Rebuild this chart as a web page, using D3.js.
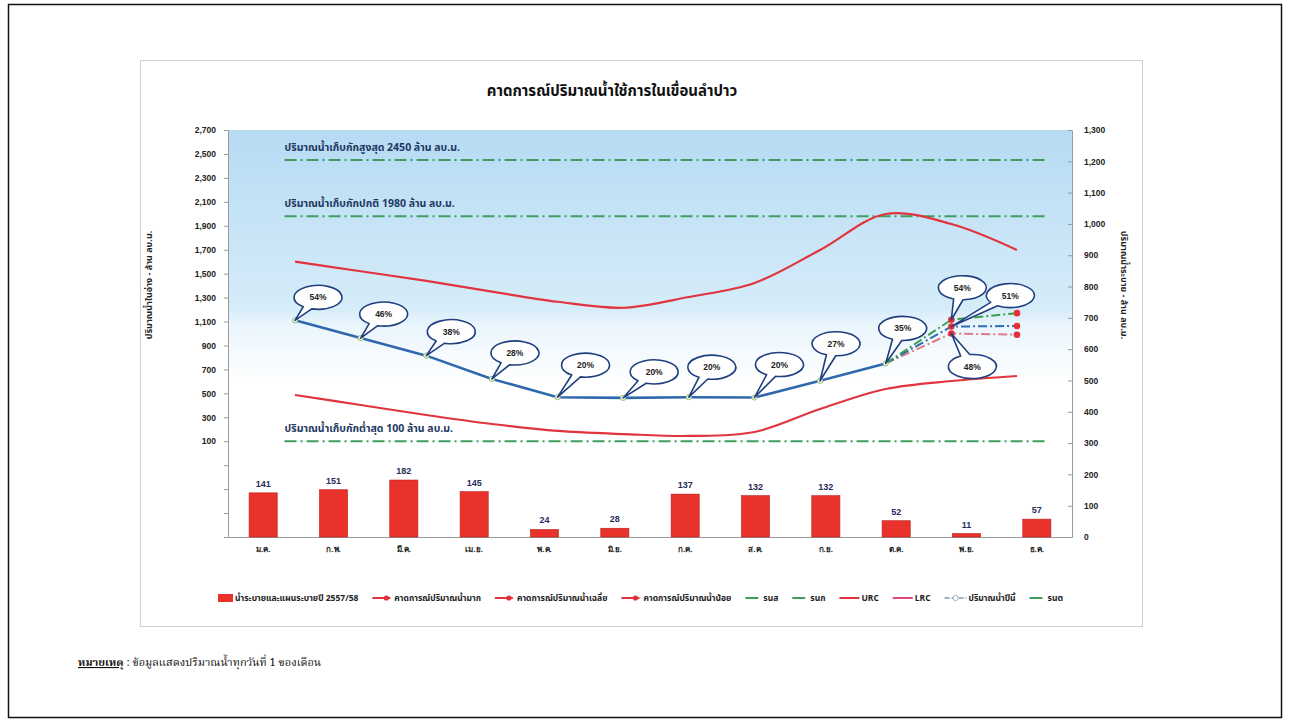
<!DOCTYPE html>
<html><head><meta charset="utf-8">
<script src="https://cdn.jsdelivr.net/npm/d3@7"></script>
<style>
body{margin:0;background:#fff;}
svg{display:block;font-family:"Noto Sans Thai","Tahoma","Noto Sans",sans-serif;}
</style></head><body>
<svg id="c" width="1289" height="722"></svg>
<script>
// ---------------- DATA ----------------
const months = ["ม.ค.","ก.พ.","มี.ค.","เม.ย.","พ.ค.","มิ.ย.","ก.ค.","ส.ค.","ก.ย.","ต.ค.","พ.ย.","ธ.ค."];
const releaseValues = [141,151,182,145,24,28,137,132,132,52,11,57];
const actualMonths = months.slice(0,10);
const actualStorage = [1110,962,815,620,468,462,468,465,605,750];
const actualPercent = ["54%","46%","38%","28%","20%","20%","20%","20%","27%","35%"];
const forecastMonths = ["ต.ค.","พ.ย.","ธ.ค."];
const forecastHigh = [750,1115,1170];
const forecastAvg  = [750,1058,1063];
const forecastLow  = [750,1000,990];
const forecastPercent = ["54%","51%","48%"];
const urcValues = [1600,1520,1440,1350,1265,1215,1305,1422,1698,1998,1915,1698];
const lrcValues = [486,403,319,244,186,160,144,177,369,536,603,645];
const refLevels = [2450,1980,100];
const refLabels = ["ปริมาณน้ำเก็บกักสูงสุด 2450 ล้าน ลบ.ม.","ปริมาณน้ำเก็บกักปกติ 1980 ล้าน ลบ.ม.","ปริมาณน้ำเก็บกักต่ำสุด 100 ล้าน ลบ.ม."];
const leftTicks = d3.range(-700, 2701, 200);
const rightTicks = d3.range(0, 1301, 100);
const legendLabels = ["น้ำระบายและแผนระบายปี 2557/58","คาดการณ์ปริมาณน้ำมาก","คาดการณ์ปริมาณน้ำเฉลี่ย","คาดการณ์ปริมาณน้ำน้อย","รนส","รนก","URC","LRC","ปริมาณน้ำปีนี้","รนต"];
const titleText = "คาดการณ์ปริมาณน้ำใช้การในเขื่อนลำปาว";
const leftTitle = "ปริมาณน้ำในอ่าง - ล้าน ลบ.ม.";
const rightTitle = "ปริมาณน้ำระบาย - ล้าน ลบ.ม.";
const noteHead = "หมายเหตุ";
const noteBody = " : ข้อมูลแสดงปริมาณน้ำทุกวันที่ 1 ของเดือน";

// ---------------- LAYOUT ----------------
const svg = d3.select("#c");
const L = 228, R = 1072, T = 130, B = 537, W = R - L;
const yL = d3.scaleLinear().domain([-700, 2700]).range([B, T]);
const yR = d3.scaleLinear().domain([0, 1300]).range([B, T]);
const xBand = d3.scaleBand().domain(months).range([L, R]).paddingInner(0.6).paddingOuter(0.3);
const xLine = d3.scalePoint().domain(months).range([L + 0.0794*W, R - 0.0652*W]);
const numFont = "'Liberation Sans', Arial, sans-serif";

// outer frame & chart frame
svg.append("rect").attr("x",8.5).attr("y",4.5).attr("width",1273).attr("height",713)
  .attr("fill","none").attr("stroke","#111").attr("stroke-width",1.5);
svg.append("rect").attr("x",140.5).attr("y",60.5).attr("width",1002).attr("height",566)
  .attr("fill","#fff").attr("stroke","#cfcfcf").attr("stroke-width",1);

// gradient background
const defs = svg.append("defs");
const g = defs.append("linearGradient").attr("id","bg").attr("x1",0).attr("y1",0).attr("x2",0).attr("y2",1);
[["0%","#b6dbf3"],["44%","#d6ecf9"],["48%","#eaf5fc"],["62%","#ffffff"],["100%","#ffffff"]]
  .forEach(([o,c])=>g.append("stop").attr("offset",o).attr("stop-color",c));
svg.append("rect").attr("x",L).attr("y",T).attr("width",W).attr("height",B-T).attr("fill","url(#bg)");

// title
svg.append("text").attr("x",612).attr("y",96).attr("text-anchor","middle")
  .attr("font-size",15).attr("font-weight","bold").attr("fill","#111").text(titleText);

// axes
const axL = svg.append("g").attr("transform",`translate(${L},0)`)
  .call(d3.axisLeft(yL).tickValues(leftTicks).tickFormat(d=>d>0?d3.format(",")(d):"").tickSize(4).tickPadding(8));
axL.select(".domain").attr("stroke","#9a9a9a");
axL.selectAll(".tick line").attr("stroke","#9a9a9a");
axL.selectAll("text").attr("font-size",8.5).attr("font-family",numFont).attr("fill","#222").attr("font-weight","bold");

const axR = svg.append("g").attr("transform",`translate(${R},0)`)
  .call(d3.axisRight(yR).tickValues(rightTicks).tickFormat(d3.format(",")).tickSizeInner(-4).tickSizeOuter(0).tickPadding(12));
axR.select(".domain").attr("stroke","#9a9a9a");
axR.selectAll(".tick line").attr("stroke","#9a9a9a");
axR.selectAll("text").attr("font-size",8.5).attr("font-family",numFont).attr("fill","#222").attr("font-weight","bold");

const axB = svg.append("g").attr("transform",`translate(0,${B})`)
  .call(d3.axisBottom(xBand).tickSize(0).tickPadding(9));
axB.select(".domain").attr("stroke","#9a9a9a");
axB.selectAll("text").attr("font-size",8).attr("font-weight","bold").attr("fill","#222");

// axis titles
svg.append("text").attr("transform",`translate(152,285) rotate(-90)`).attr("text-anchor","middle")
  .attr("font-size",9).attr("font-weight","bold").attr("fill","#222").text(leftTitle);
svg.append("text").attr("transform",`translate(1121,285) rotate(90)`).attr("text-anchor","middle")
  .attr("font-size",9).attr("font-weight","bold").attr("fill","#222").text(rightTitle);

// reference lines
const refX0 = L + 0.067*W, refX1 = R - 0.032*W;
refLevels.forEach((v,i)=>{
  svg.append("line").attr("x1",refX0).attr("x2",refX1).attr("y1",yL(v)).attr("y2",yL(v))
    .attr("stroke","#3f9e5f").attr("stroke-width",2).attr("stroke-dasharray","12,4,2,4");
  svg.append("text").attr("x",refX0).attr("y",yL(v)-9).attr("font-size",10.5).attr("font-weight","bold")
    .attr("fill","#1f3864").text(refLabels[i]);
});

// bars
svg.append("g").selectAll("rect").data(releaseValues).join("rect")
  .attr("x",(d,i)=>xBand(months[i])).attr("width",xBand.bandwidth())
  .attr("y",d=>yR(d)).attr("height",d=>yR(0)-yR(d))
  .attr("fill","#e8322b").attr("stroke","#b8201c").attr("stroke-width",0.6);
svg.append("g").selectAll("text").data(releaseValues).join("text")
  .attr("x",(d,i)=>xBand(months[i])+xBand.bandwidth()/2).attr("y",d=>yR(d)-6)
  .attr("text-anchor","middle").attr("font-size",9).attr("font-weight","bold")
  .attr("font-family",numFont).attr("fill","#1f2d5a").text(d=>d);

// URC / LRC
const curve = d3.line().x((d,i)=>xLine(months[i])).y(d=>yL(d)).curve(d3.curveCatmullRom.alpha(0.5));
svg.append("path").attr("d",curve(urcValues)).attr("fill","none").attr("stroke","#e0343e").attr("stroke-width",2.2);
svg.append("path").attr("d",curve(lrcValues)).attr("fill","none").attr("stroke","#e0343e").attr("stroke-width",2.2);

// forecast lines
const fLine = d3.line().x((d,i)=>xLine(forecastMonths[i])).y(d=>yL(d));
const fSeries = [[forecastLow,"#e07a86"],[forecastAvg,"#2e6db4"],[forecastHigh,"#3aa04e"]];
fSeries.forEach(([arr,c])=>{
  svg.append("path").attr("d",fLine(arr)).attr("fill","none").attr("stroke",c).attr("stroke-width",2)
    .attr("stroke-dasharray","9,3,2,3");
});

// actual line
const aLine = d3.line().x((d,i)=>xLine(actualMonths[i])).y(d=>yL(d));
svg.append("path").attr("d",aLine(actualStorage)).attr("fill","none").attr("stroke","#2f68ad").attr("stroke-width",2.6);
svg.append("g").selectAll("circle").data(actualStorage).join("circle")
  .attr("cx",(d,i)=>xLine(actualMonths[i])).attr("cy",d=>yL(d)).attr("r",2.6)
  .attr("fill","#eef5dc").attr("stroke","#9fbf7a").attr("stroke-width",1);

// forecast markers
[forecastHigh,forecastAvg,forecastLow].forEach(arr=>{
  arr.slice(1).forEach((v,j)=>{
    svg.append("circle").attr("cx",xLine(forecastMonths[j+1])).attr("cy",yL(v)).attr("r",3.3).attr("fill","#e5303a");
  });
});

// callouts
function calloutPath(cx, cy, rx, ry, tx, ty, d){
  const th = Math.atan2((ty-cy)/ry, (tx-cx)/rx);
  const p = a => [cx + rx*Math.cos(a), cy + ry*Math.sin(a)];
  const b1 = p(th - d), b2 = p(th + d);
  return `M${b1}L${tx},${ty}L${b2}A${rx},${ry} 0 1 1 ${b1}Z`;
}
const actualOffsets = [[23,-23],[23,-24],[25,-24],[23,-26],[28,-32],[31,-26],[23,-30],[25,-33],[16,-37],[17,-35]];
const forecastOffsets = [[11,-32],[59,-31],[21,33]];
const cg = svg.append("g");
function drawCallout(tx, ty, off, label){
  const cx = tx+off[0], cy = ty+off[1];
  cg.append("path").attr("d",calloutPath(cx,cy,24,12,tx,ty,0.2)).attr("fill","#fff")
    .attr("stroke","#1f3f7f").attr("stroke-width",1.6).attr("stroke-linejoin","round");
  cg.append("text").attr("x",cx).attr("y",cy+3).attr("text-anchor","middle").attr("font-size",8.5)
    .attr("font-weight","bold").attr("font-family",numFont).attr("fill","#222").text(label);
}
actualStorage.forEach((v,i)=>drawCallout(xLine(actualMonths[i]), yL(v), actualOffsets[i], actualPercent[i]));
[forecastHigh,forecastAvg,forecastLow].forEach((arr,k)=>drawCallout(xLine(forecastMonths[1]), yL(arr[1]), forecastOffsets[k], forecastPercent[k]));

// legend
const lg = svg.append("g").attr("transform","translate(0,598)");
const symW = [15,20,20,20,16,16,20,20,22,16];
const items = legendLabels.map((lab,i)=>{
  const gi = lg.append("g");
  const t = gi.append("text").attr("x",symW[i]+2).attr("y",3).attr("font-size",8.5).attr("font-weight","bold")
    .attr("fill","#222").text(lab);
  const sw = symW[i];
  if(i===0){ gi.append("rect").attr("x",0).attr("y",-4).attr("width",sw).attr("height",8).attr("fill","#e8322b"); }
  else if(i>=1 && i<=3){
    gi.append("line").attr("x1",0).attr("x2",sw-2).attr("y1",0).attr("y2",0).attr("stroke","#e0343e").attr("stroke-width",2);
    gi.append("circle").attr("cx",sw-6).attr("cy",0).attr("r",2.6).attr("fill","#e5303a");
  } else if(i===4||i===5||i===9){
    gi.append("line").attr("x1",0).attr("x2",sw-3).attr("y1",0).attr("y2",0).attr("stroke","#3f9e5f").attr("stroke-width",2);
  } else if(i===6||i===7){
    gi.append("line").attr("x1",0).attr("x2",sw).attr("y1",0).attr("y2",0).attr("stroke",i===6?"#e0343e":"#e04a78").attr("stroke-width",2);
  } else {
    gi.append("line").attr("x1",0).attr("x2",sw).attr("y1",0).attr("y2",0).attr("stroke","#9fb0c8").attr("stroke-width",2).attr("stroke-dasharray","5,2");
    gi.append("circle").attr("cx",sw/2).attr("cy",0).attr("r",2.6).attr("fill","#fff").attr("stroke","#9fb0c8");
  }
  return {g:gi, w: sw+2+t.node().getComputedTextLength()};
});
const lx0 = 218, lx1 = 1063;
const total = d3.sum(items, d=>d.w);
const gap = (lx1-lx0-total)/(items.length-1);
let cx = lx0;
items.forEach(it=>{ it.g.attr("transform",`translate(${cx},0)`); cx += it.w + gap; });

// note
const nt = svg.append("text").attr("x",78).attr("y",666).attr("font-size",11)
  .attr("font-family","'Noto Serif Thai','Noto Sans Thai',serif").attr("fill","#111");
nt.append("tspan").attr("font-weight","bold").attr("text-decoration","underline").text(noteHead);
nt.append("tspan").text(noteBody);
</script>
</body></html>
